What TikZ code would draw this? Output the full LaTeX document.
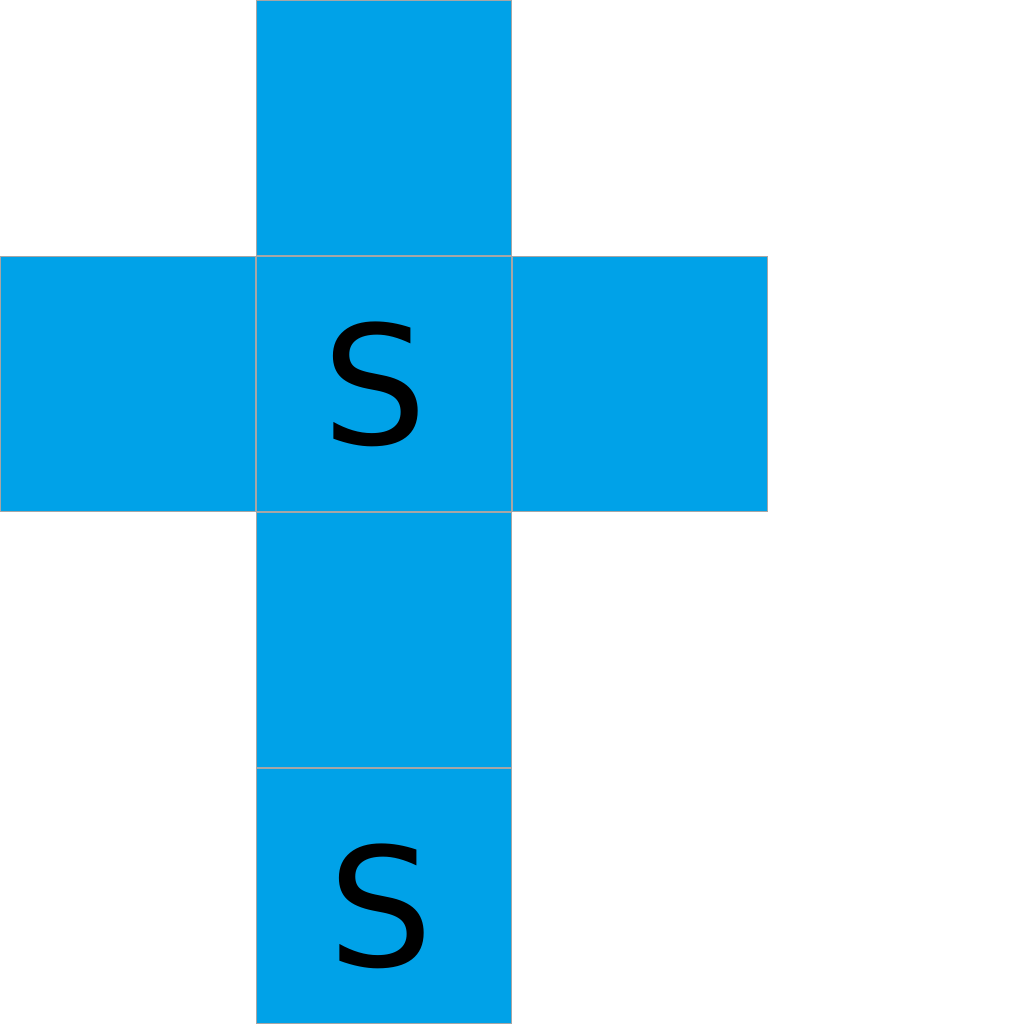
\documentclass[tikz,border=0pt]{standalone}
\usepackage{fontspec}
\setmainfont{DejaVu Sans}
\definecolor{netblue}{RGB}{0,162,232}

\begin{document}
\begin{tikzpicture}[face/.style={draw=gray!70, fill=netblue, line width=0.4pt, minimum size=2.55cm, inner sep=0pt},letter/.style={anchor=base, inner sep=0pt, font=\fontsize{47}{56}\selectfont}]
\useasboundingbox (0,0) rectangle (10.24,10.24);
\node[face] (top) at (3.84,8.96) {}; \node[face] (left) at (1.28,6.40) {}; \node[face] (mid) at (3.84,6.40) {};
\node[face] (right) at (6.40,6.40) {}; \node[face] (low) at (3.84,3.84) {}; \node[face] (base) at (3.84,1.28) {};
\node[letter] (midS) at (3.75,5.79) {S};
\node[letter] (baseS) at (3.81,0.57) {S};
\end{tikzpicture}
\end{document}
